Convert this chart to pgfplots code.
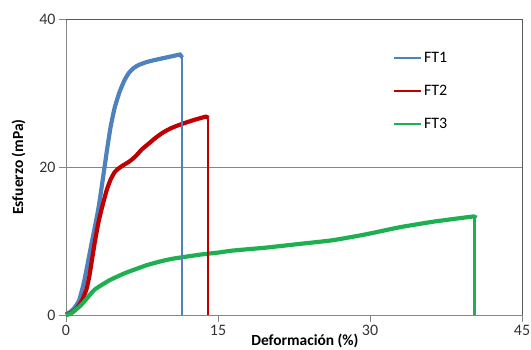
\documentclass[border=0pt]{standalone}
\usepackage{pgfplots}
\pgfplotsset{compat=1.18}
\usepackage{fontspec}
\setmainfont{Carlito}
\definecolor{ftblue}{HTML}{4F81BD}
\definecolor{ftred}{HTML}{C00000}
\definecolor{ftgreen}{HTML}{1DAF50}
\definecolor{axgray}{HTML}{868686}
\definecolor{bordergray}{HTML}{595959}
\begin{document}
\begin{tikzpicture}
\begin{axis}[
  scale only axis,
  width=456bp, height=296bp,
  xmin=0, xmax=45, ymin=0, ymax=40,
  xtick={0,15,30,45}, ytick={0,20,40},
  xtick pos=left, ytick pos=left,
  tick align=outside,
  major tick length=7bp,
  tick style={axgray, line width=0.6pt},
  axis line style={axgray, line width=0.7pt},
  ymajorgrids, grid style={axgray, line width=0.6pt},
  /pgf/number format/assume math mode=true,
  ticklabel style={font=\fontsize{16}{19}\selectfont, text=black!80},
  xticklabel style={yshift=0bp},
  xlabel={\bfseries Deformación (\%)},
  ylabel={\bfseries Esfuerzo (mPa)},
  label style={font=\fontsize{15.5}{18}\selectfont},
  xlabel style={at={(axis description cs:0.524,-0.088)}, anchor=center},
  ylabel style={at={(axis description cs:-0.104,0.5)}, anchor=center, rotate=0},
  legend style={at={(axis description cs:0.717,0.895)}, anchor=north west, draw=none, fill=none,
    font=\fontsize{16}{19}\selectfont, row sep=17bp, inner sep=0pt},
  legend cell align=left,
  legend image code/.code={\draw[#1, line width=2pt] (0bp,0bp) -- (27bp,0bp);},
  clip=false,
]
\addplot[ftblue, line width=4.2pt, smooth, tension=0.3] coordinates {
(0,0.1) (0.4,0.4) (0.8,0.9) (1.3,2.0) (1.8,4.6) (2.5,9.5) (3.2,14.4) (3.7,19.0) (4.1,22.8) (4.4,25.4) (4.8,28.0) (5.3,30.2) (5.8,31.8) (6.2,32.7) (6.7,33.4) (7.2,33.8) (8.0,34.2) (8.9,34.5) (9.9,34.8) (10.9,35.1) (11.25,35.2) (11.45,34.8)
};
\addlegendentry{FT1}
\addplot[ftred, line width=4.2pt, smooth, tension=0.3] coordinates {
(0,0) (0.5,0.3) (1.0,0.8) (1.6,2.0) (2.0,3.4) (2.3,5.2) (2.8,9.5) (3.2,12.5) (3.55,14.5) (4.0,16.8) (4.4,18.3) (4.8,19.3) (5.1,19.7) (5.6,20.2) (6.1,20.6) (6.5,21.0) (6.9,21.5) (7.5,22.4) (8.2,23.2) (8.8,23.9) (9.5,24.6) (10.3,25.2) (11.2,25.7) (12.5,26.3) (13.8,26.8) (14.0,26.6)
};
\addlegendentry{FT2}
\addplot[ftgreen, line width=4.2pt, smooth, tension=0.3] coordinates {
(0,0) (0.5,0.2) (1.3,1.1) (1.8,1.8) (2.8,3.4) (4.3,4.7) (5.9,5.7) (7.9,6.7) (9.2,7.2) (10.5,7.6) (13.2,8.15) (15.1,8.45) (16.4,8.7) (19.7,9.1) (23.0,9.6) (26.3,10.1) (29.6,10.9) (32.9,11.85) (36.2,12.6) (40.1,13.3) (40.3,13.2)
};
\addlegendentry{FT3}
\addplot[ftblue, line width=2.4pt, forget plot] coordinates {(11.45,34.8) (11.45,0)};
\addplot[ftred, line width=2.4pt, forget plot] coordinates {(14.0,26.6) (14.0,0)};
\addplot[ftgreen, line width=2.4pt, forget plot] coordinates {(40.3,13.2) (40.3,0)};
\draw[bordergray, line width=0.7pt] (rel axis cs:0,1) -- (rel axis cs:1,1) -- (rel axis cs:1,0);
\end{axis}
\pgfresetboundingbox
\useasboundingbox (-66bp,-35bp) rectangle (465bp,315bp);
\end{tikzpicture}
\end{document}
